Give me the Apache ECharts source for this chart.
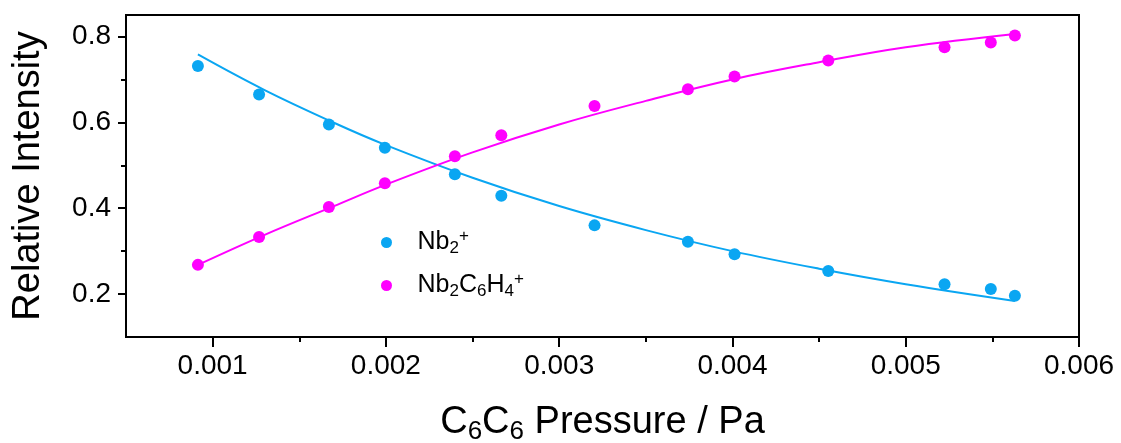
<!DOCTYPE html>
<html>
<head>
<meta charset="utf-8">
<script src="https://cdn.jsdelivr.net/npm/echarts@6/dist/echarts.min.js"></script>
<style>
html,body{margin:0;padding:0;background:#fff}
#chart{width:1121px;height:443px}
</style>
</head>
<body>
<div id="chart"></div>
<script>
// 测量数据
var pressure = [0.000915, 0.001268, 0.001671, 0.001994, 0.002398, 0.002666, 0.003204, 0.003743, 0.004012, 0.004553, 0.005224, 0.005491, 0.00563]
var nb2 = [0.731, 0.665, 0.595, 0.541, 0.479, 0.429, 0.360, 0.322, 0.293, 0.254, 0.223, 0.212, 0.196]
var nb2c6h4 = [0.268, 0.333, 0.403, 0.458, 0.521, 0.570, 0.638, 0.677, 0.707, 0.744, 0.775, 0.786, 0.802]
// 拟合曲线
var fitPressure = [0.000915, 0.0013, 0.0017, 0.002, 0.0025, 0.003, 0.0035, 0.004, 0.0045, 0.005, 0.00563]
var nb2Fit = [0.758, 0.675, 0.599, 0.547, 0.471, 0.405, 0.349, 0.300, 0.259, 0.223, 0.184]
var nb2c6h4Fit = [0.268, 0.338, 0.405, 0.455, 0.530, 0.595, 0.650, 0.700, 0.740, 0.775, 0.806]
// 刻度
var xMajor = [0.001, 0.002, 0.003, 0.004, 0.005, 0.006]
var xMinor = [0.0015, 0.0025, 0.0035, 0.0045, 0.0055]
var yMajor = [0.2, 0.4, 0.6, 0.8]
var yMinor = [0.3, 0.5, 0.7]

var blue = '#0AA6F2'
var pink = '#FF00FF'
var font = 'Liberation Sans, Arial, sans-serif'

function pairs (xs, ys) {
    var out = []
    for (var i = 0; i < xs.length; i++) {
        out.push([xs[i], ys[i]])
    }
    return out
}

var gridBox = {left: 126, right: 42, top: 15, bottom: 106, outerBoundsMode: 'none', containLabel: false}

var option = {
    backgroundColor: '#fff',
    animation: false,
    textStyle: {fontFamily: font},
    grid: [
        Object.assign({show: true, borderColor: '#000', borderWidth: 2}, gridBox),
        Object.assign({show: false}, gridBox)
    ],
    legend: {
        orient: 'vertical',
        left: 376,
        top: 223,
        itemWidth: 52,
        itemHeight: 11,
        itemGap: 14,
        icon: 'circle',
        data: ['Nb2+', 'Nb2C6H4+'],
        formatter: function (name) {
            if (name === 'Nb2+') return '{n|Nb}{sub|2}{sup|+}'
            return '{n|Nb}{sub|2}{n|C}{sub|6}{n|H}{sub|4}{sup|+}'
        },
        textStyle: {
            color: '#000',
            fontFamily: font,
            rich: {
                n: {fontSize: 25, fontFamily: font, color: '#000'},
                sub: {fontSize: 17, fontFamily: font, color: '#000', padding: [12, 0, 0, 0]},
                sup: {fontSize: 17, fontFamily: font, color: '#000', padding: [0, 0, 12, 0]}
            }
        }
    },
    xAxis: [{
        type: 'value',
        gridIndex: 0,
        min: 0.0005,
        max: 0.006,
        name: '{n|C}{sub|6}{n|C}{sub|6}{n| Pressure / Pa}',
        nameLocation: 'middle',
        nameGap: 64,
        nameTextStyle: {
            rich: {
                n: {fontSize: 38, fontFamily: font, color: '#000'},
                sub: {fontSize: 26, fontFamily: font, color: '#000', padding: [18, 0, 0, 0]}
            }
        },
        axisLine: {lineStyle: {color: '#000', width: 2}},
        axisTick: {customValues: xMajor, length: 10, lineStyle: {color: '#000', width: 2}},
        axisLabel: {
            customValues: xMajor,
            fontSize: 28,
            color: '#000',
            margin: 15,
            formatter: function (v) { return v.toFixed(3) }
        },
        splitLine: {show: false}
    }, {
        // 次刻度
        type: 'value',
        gridIndex: 1,
        min: 0.0005,
        max: 0.006,
        axisLine: {show: false},
        axisTick: {customValues: xMinor, length: 5, lineStyle: {color: '#000', width: 2}},
        axisLabel: {show: false},
        splitLine: {show: false}
    }],
    yAxis: [{
        type: 'value',
        gridIndex: 0,
        min: 0.1,
        max: 0.85,
        name: 'Relative Intensity',
        nameLocation: 'middle',
        nameGap: 78,
        nameTextStyle: {fontSize: 38, color: '#000', fontFamily: font},
        axisLine: {show: true, lineStyle: {color: '#000', width: 2}},
        axisTick: {show: true, customValues: yMajor, length: 8, lineStyle: {color: '#000', width: 2}},
        axisLabel: {
            customValues: yMajor,
            fontSize: 28,
            color: '#000',
            margin: 15,
            formatter: function (v) { return v.toFixed(1) }
        },
        splitLine: {show: false}
    }, {
        type: 'value',
        gridIndex: 1,
        min: 0.1,
        max: 0.85,
        axisLine: {show: false},
        axisTick: {show: true, customValues: yMinor, length: 5, lineStyle: {color: '#000', width: 2}},
        axisLabel: {show: false},
        splitLine: {show: false}
    }],
    series: [{
        name: 'Nb2+ fit',
        type: 'line',
        data: pairs(fitPressure, nb2Fit),
        smooth: 0.4,
        showSymbol: false,
        lineStyle: {color: blue, width: 2},
        z: 2
    }, {
        name: 'Nb2C6H4+ fit',
        type: 'line',
        data: pairs(fitPressure, nb2c6h4Fit),
        smooth: 0.4,
        showSymbol: false,
        lineStyle: {color: pink, width: 2},
        z: 2
    }, {
        name: 'Nb2+',
        type: 'scatter',
        data: pairs(pressure, nb2),
        symbolSize: 12,
        itemStyle: {color: blue, opacity: 1},
        z: 3
    }, {
        name: 'Nb2C6H4+',
        type: 'scatter',
        data: pairs(pressure, nb2c6h4),
        symbolSize: 12,
        itemStyle: {color: pink, opacity: 1},
        z: 3
    }]
}

var chartDom = document.getElementById('chart')
var chart = echarts.init(chartDom)
chart.setOption(option)

window.onresize = function () {
    chart.resize()
}
</script>
</body>
</html>
